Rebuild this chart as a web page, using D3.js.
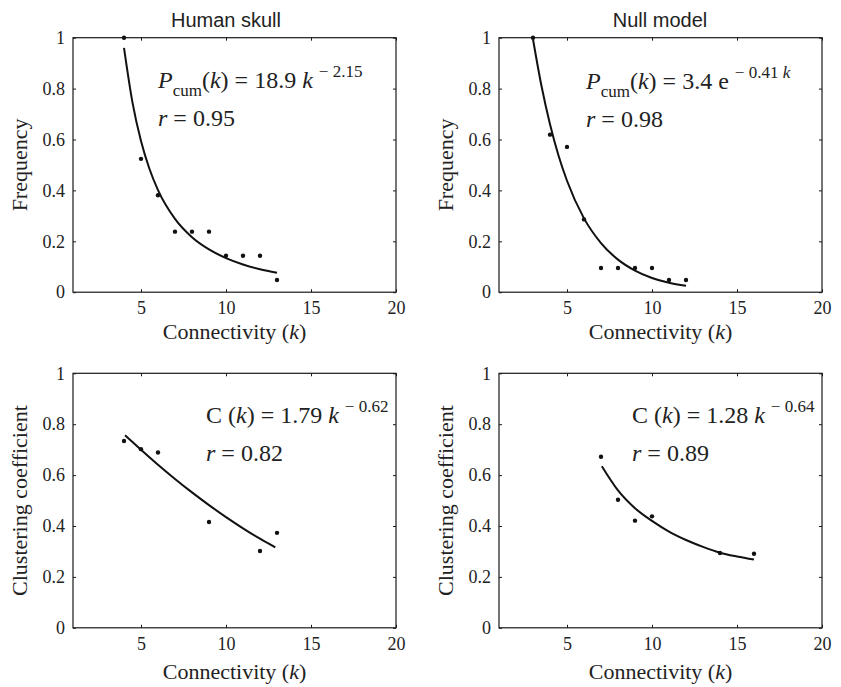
<!DOCTYPE html>
<html>
<head>
<meta charset="utf-8">
<script src="https://cdn.jsdelivr.net/npm/d3@7"></script>
<style>
  body { margin: 0; background: #fff; }
  svg text { fill: #222; }
  .serif { font-family: "Liberation Serif", "DejaVu Serif", "Times New Roman", Times, serif; }
  .sans { font-family: "Liberation Sans", Arial, Helvetica, sans-serif; }
</style>
</head>
<body>
<svg id="chart" width="841" height="687"></svg>
<script>
// axis ticks shared by all four panels
const kTicks = [5, 10, 15, 20];
const kTickLabels = ["5", "10", "15", "20"];
const yTicks = [0, 0.2, 0.4, 0.6, 0.8, 1];
const yTickLabels = ["0", "0.2", "0.4", "0.6", "0.8", "1"];

// Human skull - cumulative degree distribution
const skullDegK = [4, 5, 6, 7, 8, 9, 10, 11, 12, 13];
const skullDegP = [1.0, 0.524, 0.381, 0.238, 0.238, 0.238, 0.143, 0.143, 0.143, 0.048];
const skullDegFitK = [4, 4.5, 5, 5.5, 6, 7, 8, 9, 10, 11, 12, 13];
const skullDegFitP = [0.96, 0.745, 0.594, 0.484, 0.401, 0.288, 0.216, 0.168, 0.134, 0.109, 0.090, 0.076];

// Null model - cumulative degree distribution
const nullDegK = [3, 4, 5, 6, 7, 8, 9, 10, 11, 12];
const nullDegP = [1.0, 0.619, 0.571, 0.286, 0.095, 0.095, 0.095, 0.095, 0.048, 0.048];
const nullDegFitK = [3, 3.5, 4, 4.5, 5, 6, 7, 8, 9, 10, 11, 12];
const nullDegFitP = [0.994, 0.810, 0.660, 0.537, 0.438, 0.290, 0.193, 0.128, 0.085, 0.056, 0.037, 0.025];

// Human skull - clustering coefficient
const skullClustK = [4, 5, 6, 9, 12, 13];
const skullClustC = [0.734, 0.702, 0.689, 0.416, 0.302, 0.373];
const skullClustFitK = [4.06, 5, 6, 7, 8, 9, 10, 11, 12, 12.9];
const skullClustFitC = [0.757, 0.700, 0.641, 0.585, 0.532, 0.482, 0.435, 0.391, 0.350, 0.316];

// Null model - clustering coefficient
const nullClustK = [7, 8, 9, 10, 14, 16];
const nullClustC = [0.672, 0.503, 0.421, 0.438, 0.294, 0.291];
const nullClustFitK = [7.05, 8, 9, 10, 11, 12, 13, 14, 15, 16];
const nullClustFitC = [0.635, 0.540, 0.470, 0.420, 0.378, 0.345, 0.318, 0.295, 0.280, 0.268];

const zip = (xs, ys) => xs.map((x, i) => ({k: x, v: ys[i]}));

const panels = [
  {left: 73, top: 37.7, title: "Human skull", titleX: 226, ylabel: "Frequency", xlabOff: 47,
   pts: zip(skullDegK, skullDegP), fit: zip(skullDegFitK, skullDegFitP),
   eq: {x: 85, y: 50, kind: "P", coef: "18.9 ", base: "k", sup: "\u2212 2.15", r: "0.95"}},
  {left: 499, top: 37.7, title: "Null model", titleX: 660, ylabel: "Frequency", xlabOff: 47,
   pts: zip(nullDegK, nullDegP), fit: zip(nullDegFitK, nullDegFitP),
   eq: {x: 87, y: 51, kind: "P", coef: "3.4 ", base: "e", sup: "\u2212 0.41 ", supK: true, r: "0.98"}},
  {left: 73, top: 373.3, ylabel: "Clustering coefficient", xlabOff: 51,
   pts: zip(skullClustK, skullClustC), fit: zip(skullClustFitK, skullClustFitC),
   eq: {x: 133, y: 50, kind: "C", coef: "1.79 ", base: "k", sup: "\u2212 0.62", r: "0.82"}},
  {left: 499, top: 373.3, ylabel: "Clustering coefficient", xlabOff: 51,
   pts: zip(nullClustK, nullClustC), fit: zip(nullClustFitK, nullClustFitC),
   eq: {x: 133, y: 50, kind: "C", coef: "1.28 ", base: "k", sup: "\u2212 0.64", r: "0.89"}}
];

const width = 323, height = 254.5;
const svg = d3.select("#chart");

panels.forEach(p => {
  const g = svg.append("g").attr("transform", `translate(${p.left},${p.top})`);
  const x = d3.scaleLinear().domain([1, 20]).range([0, width]);
  const y = d3.scaleLinear().domain([0, 1]).range([height, 0]);

  // MATLAB style inward ticks on all four sides
  const styleAxis = sel => {
    sel.attr("font-family", null).attr("font-size", null).attr("class", "serif");
    sel.select(".domain").remove();
    sel.selectAll(".tick line").attr("stroke", "#1a1a1a");
    sel.selectAll("text").attr("font-size", 18).attr("fill", "#222");
  };
  g.append("g").attr("transform", `translate(0,${height})`)
    .call(d3.axisBottom(x).tickValues(kTicks).tickFormat((d, i) => kTickLabels[i]).tickSize(-3).tickPadding(9))
    .call(styleAxis);
  g.append("g")
    .call(d3.axisTop(x).tickValues(kTicks).tickFormat("").tickSize(-3))
    .call(styleAxis);
  g.append("g")
    .call(d3.axisLeft(y).tickValues(yTicks).tickFormat((d, i) => yTickLabels[i]).tickSize(-3).tickPadding(8))
    .call(styleAxis);
  g.append("g").attr("transform", `translate(${width},0)`)
    .call(d3.axisRight(y).tickValues(yTicks).tickFormat("").tickSize(-3))
    .call(styleAxis);

  g.append("rect")
    .attr("width", width).attr("height", height)
    .attr("fill", "none").attr("stroke", "#1a1a1a").attr("stroke-width", 1.2);

  // fitted curve
  g.append("path")
    .datum(p.fit)
    .attr("fill", "none")
    .attr("stroke", "#111")
    .attr("stroke-width", 2)
    .attr("d", d3.line().x(d => x(d.k)).y(d => y(d.v)).curve(d3.curveMonotoneX));

  // data points
  g.selectAll("circle.pt")
    .data(p.pts)
    .join("circle")
    .attr("class", "pt")
    .attr("cx", d => x(d.k))
    .attr("cy", d => y(d.v))
    .attr("r", 2.2)
    .attr("fill", "#111");

  // equation
  const e = p.eq;
  const t1 = g.append("text").attr("class", "serif").attr("x", e.x).attr("y", e.y)
    .attr("font-size", 24);
  if (e.kind === "P") {
    t1.append("tspan").attr("font-style", "italic").text("P");
    t1.append("tspan").attr("font-size", 17).attr("dy", 8).text("cum");
    t1.append("tspan").attr("dy", -8).text("(");
  } else {
    t1.append("tspan").text("C (");
  }
  t1.append("tspan").attr("font-style", "italic").text("k");
  t1.append("tspan").text(") = " + e.coef);
  t1.append("tspan").attr("font-style", e.base === "k" ? "italic" : "normal").text(e.base + " ");
  t1.append("tspan").attr("font-size", 17).attr("dy", -11).text(e.sup);
  if (e.supK) t1.append("tspan").attr("font-size", 17).attr("font-style", "italic").text("k");

  const t2 = g.append("text").attr("class", "serif").attr("x", e.x).attr("y", e.y + 38)
    .attr("font-size", 24);
  t2.append("tspan").attr("font-style", "italic").text("r");
  t2.append("tspan").text(" = " + e.r);

  // axis labels
  const xl = g.append("text").attr("class", "serif")
    .attr("x", width / 2).attr("y", height + p.xlabOff)
    .attr("text-anchor", "middle")
    .attr("font-size", 22);
  xl.append("tspan").text("Connectivity (");
  xl.append("tspan").attr("font-style", "italic").text("k");
  xl.append("tspan").text(")");

  g.append("text").attr("class", "serif")
    .attr("transform", `translate(-46.5,${height / 2}) rotate(-90)`)
    .attr("text-anchor", "middle")
    .attr("font-size", 22)
    .text(p.ylabel);

  if (p.title) {
    svg.append("text").attr("class", "sans")
      .attr("x", p.titleX).attr("y", 26.5)
      .attr("text-anchor", "middle")
      .attr("font-size", 20)
      .text(p.title);
  }
});
</script>
</body>
</html>
